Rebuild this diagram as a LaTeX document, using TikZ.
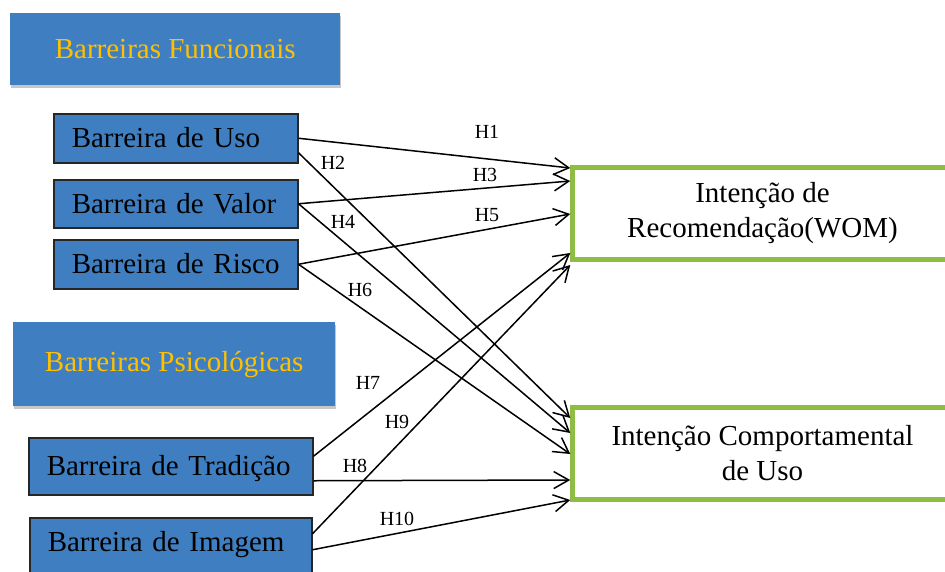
\documentclass[tikz,border=0pt]{standalone}
\usepackage{fontspec}
\setmainfont{Liberation Serif}
\usepackage{tikz}
\usetikzlibrary{arrows.meta,shadows}
\definecolor{barblue}{RGB}{63,127,193}
\definecolor{baryellow}{RGB}{255,192,0}
\definecolor{wombgreen}{RGB}{143,188,69}
\tikzset{
  headbox/.style={fill=barblue,text=baryellow,anchor=north west,
    font=\fontsize{29pt}{35pt}\selectfont,
    drop shadow={shadow xshift=0.5pt,shadow yshift=-3pt,fill=black,opacity=.22}},
  leftbox/.style={draw=black!85,line width=1.5pt,fill=barblue,anchor=north west,
    align=left,inner xsep=18pt,text height=22pt,text depth=3pt,
    font=\fontsize{29pt}{35pt}\selectfont},
  intbox/.style={draw=wombgreen,line width=4.5pt,anchor=north west,align=center,
    minimum width=380pt,minimum height=92pt,font=\fontsize{29pt}{35pt}\selectfont},
  hyp/.style={-{Straight Barb[length=15pt,width=17pt]},line width=1.5pt},
  hlabel/.style={font=\fontsize{20pt}{24pt}\selectfont}
}

\begin{document}
\begin{tikzpicture}[x=1pt,y=-1pt]
      \useasboundingbox (0,0) rectangle (945,571);
      \clip (0,0) rectangle (945,571);
      % grupos de barreiras
      \node[headbox,minimum width=330pt,minimum height=72pt] (func) at (10,13) {Barreiras Funcionais};
      \node[headbox,minimum width=322pt,minimum height=84pt] (psic) at (13,322) {Barreiras Psicológicas};
      \node[leftbox,text width=208pt,minimum height=49pt] (uso) at (53,113) {Barreira de Uso};
      \node[leftbox,text width=208pt,minimum height=48pt] (valor) at (53,179) {Barreira de Valor};
      \node[leftbox,text width=208pt,minimum height=49pt] (risco) at (53,239) {Barreira de Risco};
      \node[leftbox,text width=248pt,minimum height=57pt] (trad) at (28,437) {Barreira de Tradição};
      \node[leftbox,text width=246pt,minimum height=64pt,text depth=18pt] (imag) at (29,517) {Barreira de Imagem};
      % intencoes
      \node[intbox] (wom) at (570.25,165.25) {Intenção de\\Recomendação(WOM)};
      \node[intbox] (comp) at (570.25,405.25) {Intenção Comportamental\\de Uso};
      % hipoteses
      \draw[hyp] (uso.east) -- ([yshift=-2.75pt]wom.north west);
      \draw[hyp] ([yshift=-14.5pt]uso.east) -- ([yshift=-12.75pt]comp.north west);
      \draw[hyp] (valor.east) -- ([yshift=-15.75pt]wom.north west);
      \draw[hyp] (valor.east) -- ([yshift=-27.75pt]comp.north west);
      \draw[hyp] (risco.east) -- ([yshift=-48.75pt]wom.north west);
      \draw[hyp] (risco.east) -- ([yshift=-48.75pt]comp.north west);
      \draw[hyp] ([yshift=10pt]trad.east) -- ([yshift=-87.75pt]wom.north west);
      \draw[hyp] ([yshift=-14.5pt]trad.east) -- ([yshift=-74.75pt]comp.north west);
      \draw[hyp] ([yshift=16pt]imag.east) -- ([yshift=-99.75pt]wom.north west);
      \draw[hyp] (imag.east) -- ([yshift=-94.75pt]comp.north west);
      \node[hlabel] (h1) at (487,132) {H1};
      \node[hlabel] (h2) at (333,163) {H2};
      \node[hlabel] (h3) at (485,175) {H3};
      \node[hlabel] (h4) at (343,222) {H4};
      \node[hlabel] (h5) at (487,215) {H5};
      \node[hlabel] (h6) at (360,290) {H6};
      \node[hlabel] (h7) at (368,383) {H7};
      \node[hlabel] (h8) at (355,466) {H8};
      \node[hlabel] (h9) at (397,422) {H9};
      \node[hlabel] (h10) at (397,519) {H10};
    \end{tikzpicture}
\end{document}
